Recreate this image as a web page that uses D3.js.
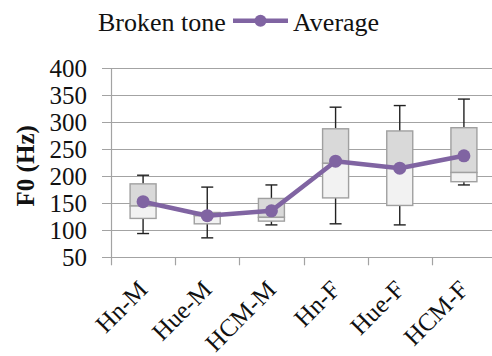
<!DOCTYPE html>
<html>
<head>
<meta charset="utf-8">
<script src="https://cdn.jsdelivr.net/npm/d3@7"></script>
<style>
  html, body { margin: 0; padding: 0; background: #fff; }
  svg { display: block; }
  text { font-family: "Liberation Serif", "Times New Roman", serif; fill: #111; }
</style>
</head>
<body>
<svg id="chart" width="492" height="356"></svg>
<script>
// F0 distribution per dialect/gender group
const categories = ["Hn-M", "Hue-M", "HCM-M", "Hn-F", "Hue-F", "HCM-F"];
const whiskerLow  = [94, 86, 110, 112, 110, 184];
const boxLow      = [122, 112, 117, 160, 146, 190];
const boxMedian   = [145, 127, 124, 224, 217, 207];
const boxHigh     = [186, 133, 159, 288, 284, 290];
const whiskerHigh = [202, 180, 184, 328, 331, 343];
const average     = [153, 127, 136, 228, 215, 238];
const yTicks      = [50, 100, 150, 200, 250, 300, 350, 400];
const legendLabels = ["Broken tone", "Average"];

const svg = d3.select("#chart");
const margin = { left: 111, right: 496, top: 68.3, bottom: 257.3 };

const x = d3.scaleBand().domain(categories).range([margin.left, margin.right]);
const y = d3.scaleLinear().domain([50, 400]).range([margin.bottom, margin.top]);

const purple = "#8064a2";
const gridColor = "#a3a3a3";

// Horizontal gridlines with short outer ticks
svg.append("g")
  .selectAll("line")
  .data(yTicks)
  .join("line")
  .attr("x1", margin.left - 9)
  .attr("x2", 492)
  .attr("y1", d => Math.round(y(d)) + 0.5)
  .attr("y2", d => Math.round(y(d)) + 0.5)
  .attr("stroke", gridColor)
  .attr("stroke-width", 1.2);

// Vertical axis line
svg.append("line")
  .attr("x1", margin.left + 0.5).attr("x2", margin.left + 0.5)
  .attr("y1", y(400)).attr("y2", y(50))
  .attr("stroke", gridColor).attr("stroke-width", 1.2);

// Category tick marks below the baseline
const tickXs = categories.map(c => x(c));
svg.append("g")
  .selectAll("line")
  .data(tickXs)
  .join("line")
  .attr("x1", d => Math.round(d) + 0.5)
  .attr("x2", d => Math.round(d) + 0.5)
  .attr("y1", y(50))
  .attr("y2", y(50) + 8)
  .attr("stroke", gridColor)
  .attr("stroke-width", 1.2);

// Y tick labels
svg.append("g")
  .selectAll("text")
  .data(yTicks)
  .join("text")
  .attr("x", 87)
  .attr("y", d => y(d))
  .attr("dy", "0.34em")
  .attr("text-anchor", "end")
  .attr("font-size", 25)
  .text(d => d);

// Y axis title
svg.append("text")
  .attr("transform", `translate(34, ${(y(400) + y(50)) / 2 + 3}) rotate(-90)`)
  .attr("text-anchor", "middle")
  .attr("font-size", 25)
  .attr("font-weight", "bold")
  .text("F0 (Hz)");

// X labels, rotated
svg.append("g")
  .selectAll("text")
  .data(categories)
  .join("text")
  .attr("transform", d => `translate(${x(d) + x.bandwidth() / 2 + 6}, 291) rotate(-45)`)
  .attr("text-anchor", "end")
  .attr("font-size", 25)
  .text(d => d);

// Box plots
const boxW = 26;
const capW = 12;
const boxes = svg.append("g");
categories.forEach((c, i) => {
  const cx = x(c) + x.bandwidth() / 2;
  const g = boxes.append("g");
  // whiskers
  g.append("line")
    .attr("x1", cx).attr("x2", cx)
    .attr("y1", y(whiskerHigh[i])).attr("y2", y(boxHigh[i]))
    .attr("stroke", "#222").attr("stroke-width", 1.4);
  g.append("line")
    .attr("x1", cx).attr("x2", cx)
    .attr("y1", y(boxLow[i])).attr("y2", y(whiskerLow[i]))
    .attr("stroke", "#222").attr("stroke-width", 1.4);
  g.append("line")
    .attr("x1", cx - capW / 2).attr("x2", cx + capW / 2)
    .attr("y1", y(whiskerHigh[i])).attr("y2", y(whiskerHigh[i]))
    .attr("stroke", "#222").attr("stroke-width", 1.4);
  g.append("line")
    .attr("x1", cx - capW / 2).attr("x2", cx + capW / 2)
    .attr("y1", y(whiskerLow[i])).attr("y2", y(whiskerLow[i]))
    .attr("stroke", "#222").attr("stroke-width", 1.4);
  // upper box (median to Q3)
  g.append("rect")
    .attr("x", cx - boxW / 2).attr("width", boxW)
    .attr("y", y(boxHigh[i])).attr("height", y(boxMedian[i]) - y(boxHigh[i]))
    .attr("fill", "#d9d9d9").attr("stroke", "#a0a0a0").attr("stroke-width", 1.4);
  // lower box (Q1 to median)
  g.append("rect")
    .attr("x", cx - boxW / 2).attr("width", boxW)
    .attr("y", y(boxMedian[i])).attr("height", y(boxLow[i]) - y(boxMedian[i]))
    .attr("fill", "#f2f2f2").attr("stroke", "#a0a0a0").attr("stroke-width", 1.4);
});

// Average line with markers
const pts = categories.map((c, i) => [x(c) + x.bandwidth() / 2, y(average[i])]);
svg.append("path")
  .attr("d", d3.line()(pts))
  .attr("fill", "none")
  .attr("stroke", purple)
  .attr("stroke-width", 4.5)
  .attr("stroke-linejoin", "round");
svg.append("g")
  .selectAll("circle")
  .data(pts)
  .join("circle")
  .attr("cx", d => d[0])
  .attr("cy", d => d[1])
  .attr("r", 6.5)
  .attr("fill", purple);

// Legend
const legend = svg.append("g");
legend.append("text")
  .attr("x", 98).attr("y", 31)
  .attr("font-size", 26)
  .text(legendLabels[0]);
legend.append("line")
  .attr("x1", 233).attr("x2", 288)
  .attr("y1", 20.7).attr("y2", 20.7)
  .attr("stroke", purple).attr("stroke-width", 4.5);
legend.append("circle")
  .attr("cx", 260.5).attr("cy", 20.7).attr("r", 6)
  .attr("fill", purple);
legend.append("text")
  .attr("x", 293).attr("y", 31)
  .attr("font-size", 26)
  .text(legendLabels[1]);
</script>
</body>
</html>
